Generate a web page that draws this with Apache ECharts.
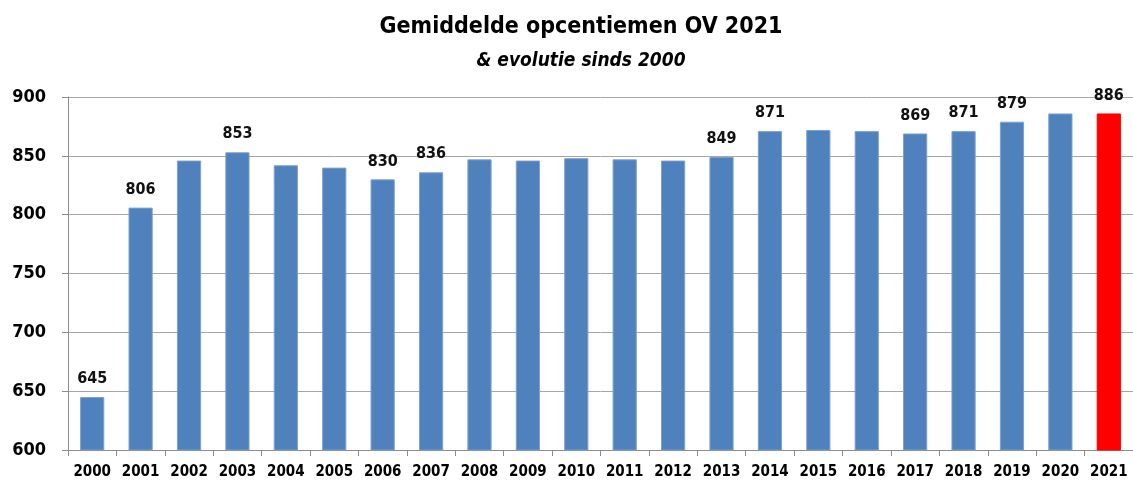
<!DOCTYPE html>
<html><head><meta charset="utf-8">
<script src="https://cdn.jsdelivr.net/npm/echarts@6/dist/echarts.min.js"></script>
<style>html,body{margin:0;padding:0;background:#fff}#c{width:1133px;height:482px}</style>
</head><body><div id="c"></div>
<script>
const years = ['2000','2001','2002','2003','2004','2005','2006','2007','2008','2009','2010','2011','2012','2013','2014','2015','2016','2017','2018','2019','2020','2021'];
const values = [645,806,846,853,842,840,830,836,847,846,848,847,846,849,871,872,871,869,871,879,886,886];
const labelledYears = ['2000','2001','2003','2006','2007','2013','2014','2017','2018','2019','2021'];
const highlightYear = '2021';
const titleText = 'Gemiddelde opcentiemen OV 2021';
const subtitleText = '& evolutie sinds 2000';
const yMin = 600, yMax = 900, yStep = 50;

const FONT = "'Liberation Sans Narrow', 'DejaVu Sans Condensed', 'Liberation Sans', sans-serif";
const chart = echarts.init(document.getElementById('c'));
chart.setOption({
  animation: false,
  title: [
    {text: titleText, left: 576, top: 11, textAlign: 'center',
     textStyle: {fontFamily: FONT, fontSize: 23, fontWeight: 'bold', color: '#000'}},
    {text: subtitleText, left: 576, top: 47, textAlign: 'center',
     textStyle: {fontFamily: FONT, fontSize: 19, fontWeight: 'bold', fontStyle: 'italic', color: '#000'}}
  ],
  grid: {left: 68, right: -1, top: 97, bottom: 32, containLabel: false},
  xAxis: {
    type: 'category', data: years, boundaryGap: true,
    axisLine: {lineStyle: {color: '#8c8c8c', width: 1}},
    axisTick: {show: true, length: 6, alignWithLabel: false, lineStyle: {color: '#8c8c8c'}},
    axisLabel: {fontFamily: FONT, fontSize: 15, fontWeight: 'bold', color: '#000', margin: 15, interval: 0}
  },
  yAxis: {
    type: 'value', min: yMin, max: yMax, interval: yStep,
    axisLine: {show: true, lineStyle: {color: '#8c8c8c', width: 1}},
    axisTick: {show: true, length: 6, lineStyle: {color: '#8c8c8c'}},
    splitLine: {lineStyle: {color: '#a6a6a6', width: 1}},
    axisLabel: {fontFamily: FONT, fontSize: 18, fontWeight: 'bold', color: '#000', margin: 22}
  },
  series: [{
    type: 'bar', barWidth: '50%',
    data: values.map((v, i) => ({
      value: v,
      itemStyle: {color: years[i] === highlightYear ? '#ff0000' : '#4f81bd',
                  borderColor: years[i] === highlightYear ? '#ff0000' : '#7fa1d0', borderWidth: 1},
      label: {show: labelledYears.includes(years[i])}
    })),
    label: {position: 'top', distance: 10, fontFamily: FONT, fontSize: 16, fontWeight: 'bold', color: '#111'}
  }]
});
</script></body></html>
